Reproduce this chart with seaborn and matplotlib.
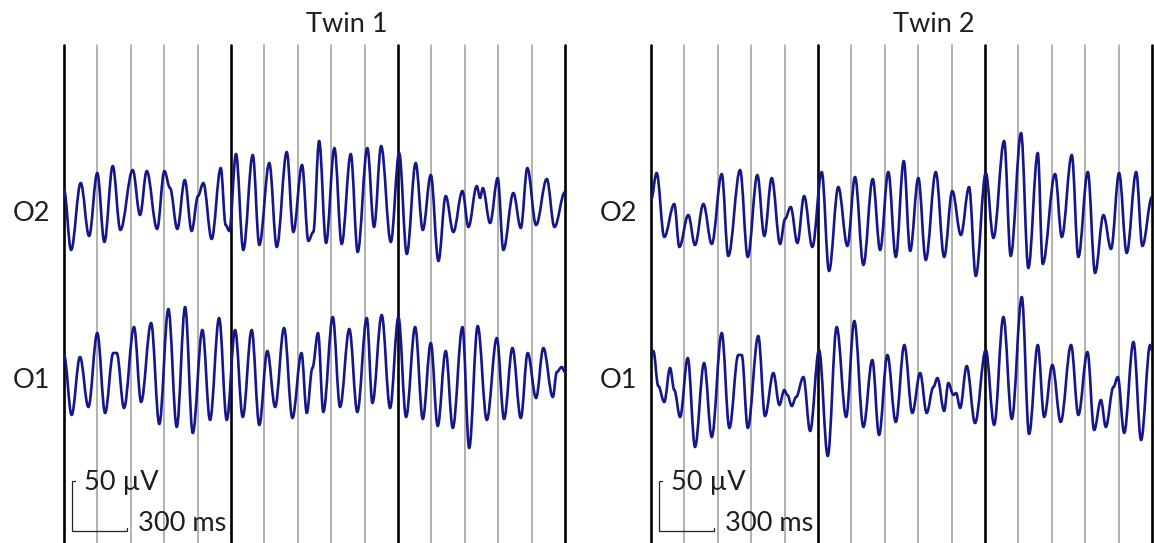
import numpy as np
import pandas as pd
import matplotlib
matplotlib.use("Agg")
import matplotlib.pyplot as plt
from matplotlib.path import Path
from matplotlib.patches import PathPatch
import seaborn as sns

# ---------------- data (time in ms, amplitude in µV) -------------
panel_titles = ["Twin 1", "Twin 2"]
channels = ["O2", "O1"]

twin1_o2_t = [0, 39, 92, 138, 183, 222, 268, 310, 378, 418, 455, 512, 552, 583, 623, 664, 702, 737, 766, 812,
              862, 889, 909, 946, 986, 1038, 1074, 1129, 1170, 1225, 1261, 1309, 1344, 1371, 1403, 1441, 1487, 1527,
              1577, 1615, 1668, 1705, 1744, 1797, 1843, 1885, 1934, 1973, 2017, 2059, 2099, 2141, 2191, 2224, 2270,
              2288, 2303, 2343, 2385, 2416, 2471, 2512, 2548, 2596, 2655, 2697, 2755]
twin1_o2_uv = [15, -45, 22, -31, 32, -37, 39, -25, 35, -10, 34, -24, 34, 17, -24, 25, -26, 9, 22, -34,
               37, -20, -26, 51, -45, 50, -40, 42, -42, 53, -27, 40, -36, -27, 64, -38, 57, -39, 51, -47,
               57, -22, 59, -37, 52, -49, 42, -25, 30, -56, 9, -27, 14, -22, 19, 7, 17, -18, 27, -45,
               12, -23, 37, -20, 26, -22, 13]

twin1_o1_t = [0, 42, 88, 134, 183, 226, 271, 290, 330, 385, 424, 479, 524, 574, 620, 666, 708, 761, 803, 853,
              895, 941, 983, 1032, 1074, 1118, 1161, 1210, 1256, 1306, 1335, 1366, 1397, 1426, 1478, 1518, 1569,
              1613, 1665, 1696, 1747, 1793, 1839, 1881, 1931, 1973, 2017, 2055, 2099, 2138, 2191, 2228, 2275,
              2325, 2380, 2420, 2466, 2512, 2550, 2596, 2636, 2688, 2710, 2737, 2755]
twin1_o1_uv = [17, -43, 15, -35, 39, -41, 19, 19, -36, 45, -30, 49, -52, 63, -55, 65, -61, 42, -48, 54,
               -48, 42, -45, 42, -53, 21, -35, 44, -46, 19, -41, 4, 39, -40, 55, -35, 43, -40, 54, -31,
               57, -36, 55, -45, 45, -47, 29, -54, 21, -56, 45, -76, 46, -48, 34, -47, 24, -46, 19, -26,
               24, -25, 0, 5, 0]

twin2_o2_t = [0, 31, 73, 128, 156, 205, 242, 288, 334, 389, 425, 490, 532, 585, 623, 664, 710, 737, 768, 805,
              842, 887, 939, 979, 1030, 1080, 1122, 1168, 1219, 1260, 1305, 1346, 1390, 1425, 1470, 1511, 1566,
              1612, 1657, 1704, 1749, 1786, 1841, 1883, 1942, 1978, 2035, 2075, 2127, 2154, 2222, 2259, 2314,
              2350, 2402, 2442, 2488, 2530, 2574, 2616, 2668, 2702, 2755]
twin2_o2_uv = [5, 32, -32, 1, -42, -10, -40, 1, -39, 31, -51, 35, -52, 30, -31, 27, -39, -14, -2, -38,
               9, -42, 33, -66, 18, -41, 28, -60, 26, -45, 33, -52, 44, -46, 27, -55, 33, -52, 14, -30,
               18, -71, 32, -33, 64, -51, 72, -63, 52, -59, 31, -32, 50, -52, 33, -68, -10, -44, 32, -48,
               33, -41, 8]

twin2_o1_t = [0, 13, 40, 73, 105, 128, 160, 202, 242, 292, 334, 389, 431, 480, 499, 532, 590, 627, 673, 706,
              733, 750, 774, 798, 838, 875, 924, 972, 1021, 1073, 1118, 1168, 1217, 1254, 1300, 1346, 1393,
              1437, 1480, 1516, 1553, 1575, 1612, 1635, 1663, 1678, 1700, 1736, 1782, 1841, 1887, 1938, 1984,
              2039, 2079, 2127, 2162, 2207, 2253, 2310, 2350, 2400, 2437, 2474, 2501, 2543, 2567, 2602, 2653,
              2695, 2745, 2755]
twin2_o1_uv = [20, 21, -14, -30, 4, -18, -45, 14, -75, 9, -65, 39, -56, 17, 17, -56, 36, -44, -1, -33,
               -18, -23, -34, -25, -5, -59, 22, -84, 45, -45, 51, -55, 12, -63, 17, -50, 27, -41, -1, -41,
               -15, -6, -39, -11, -23, -21, -36, 6, -51, 22, -53, 55, -47, 75, -62, 27, -45, 7, -50, 27,
               -43, 20, -58, -28, -55, -15, -5, -61, 30, -68, 27, 22]

epoch_ms = 2755          # length of the displayed epoch
n_grid = 15              # grid intervals per panel
scale_uv = 50
scale_ms = 300

traces = {
    ("Twin 1", "O2"): (twin1_o2_t, twin1_o2_uv),
    ("Twin 1", "O1"): (twin1_o1_t, twin1_o1_uv),
    ("Twin 2", "O2"): (twin2_o2_t, twin2_o2_uv),
    ("Twin 2", "O1"): (twin2_o1_t, twin2_o1_uv),
}

# ---------------- style ----------------
sns.set_theme(style="white")
plt.rcParams["font.family"] = ["Lato", "DejaVu Sans"]

W, H = 1154, 543
fig = plt.figure(figsize=(W / 100, H / 100), dpi=100)
fig.patch.set_facecolor("white")

trace_color = "#15168a"
text_color = "#1e1e1e"
fs = 19.5
channel_offset = {"O2": 338, "O1": 171}     # vertical spacing of channels (µV)
panel_left_px = [64, 651]
panel_w_px = 501
top_px = 45


def smooth_line(ax, line, k=0.36):
    """Render a seaborn line as a smooth curve through its vertices (cubic Bezier segments)."""
    xy = line.get_xydata()
    verts = [tuple(xy[0])]
    codes = [Path.MOVETO]
    for (x0, y0), (x1, y1) in zip(xy[:-1], xy[1:]):
        dx = x1 - x0
        verts += [(x0 + k * dx, y0), (x1 - k * dx, y1), (x1, y1)]
        codes += [Path.CURVE4] * 3
    patch = PathPatch(Path(verts, codes), facecolor="none", edgecolor=line.get_color(),
                      lw=line.get_linewidth(), joinstyle="round", capstyle="round",
                      zorder=line.get_zorder(), transform=ax.transData)
    ax.add_patch(patch)
    line.set_visible(False)


for p, title in enumerate(panel_titles):
    ax = fig.add_axes([panel_left_px[p] / W, 0, panel_w_px / W, (H - top_px) / H])
    ax.set_xlim(0, epoch_ms)
    ax.set_ylim(0, H - top_px)

    # vertical grid
    for k, g in enumerate(np.linspace(0, epoch_ms, n_grid + 1)):
        major = (k % 5 == 0)
        ax.axvline(g, color="black" if major else "#9c9c9c", lw=1.9 if major else 1.1,
                   zorder=1, clip_on=False)

    # traces
    for ch in channels:
        t, uv = traces[(title, ch)]
        df = pd.DataFrame({"time_ms": t, "amp": np.array(uv, dtype=float) + channel_offset[ch]})
        n_before = len(ax.lines)
        sns.lineplot(data=df, x="time_ms", y="amp", ax=ax, color=trace_color, lw=1.9,
                     sort=False, estimator=None, zorder=3)
        for line in ax.lines[n_before:]:
            smooth_line(ax, line)
        ax.text(-78, channel_offset[ch] - 16, ch, ha="right", va="baseline",
                fontsize=fs, color=text_color, clip_on=False)
    ax.set_xlim(0, epoch_ms)
    ax.set_ylim(0, H - top_px)
    ax.set_axis_off()

    # title
    ax.text(1555, 511, title, ha="center", va="baseline", fontsize=fs,
            color=text_color, clip_on=False)

    # scale bar
    x0, y0 = 46, 12
    ax.plot([x0 + 14, x0, x0, x0 + scale_ms, x0 + scale_ms],
            [y0 + scale_uv, y0 + scale_uv, y0, y0, y0 + 3],
            color="#222222", lw=0.9, solid_joinstyle="miter", zorder=4, clip_on=False)
    ax.text(x0 + 66, y0 + 41, f"{scale_uv} µV", ha="left", va="baseline",
            fontsize=fs, color=text_color, clip_on=False)
    ax.text(x0 + 359, y0, f"{scale_ms} ms", ha="left", va="baseline",
            fontsize=fs, color=text_color, clip_on=False)

fig.savefig("out.png", dpi=100, facecolor="white")
